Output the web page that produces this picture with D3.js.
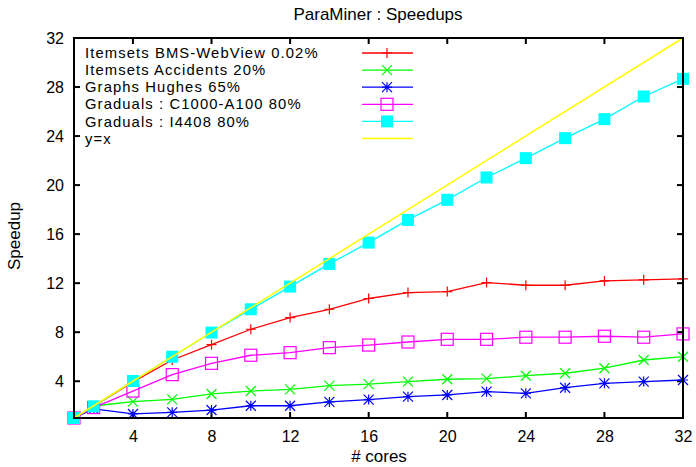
<!DOCTYPE html>
<html>
<head>
<meta charset="utf-8">
<script src="https://cdn.jsdelivr.net/npm/d3@7"></script>
<style>
  body { margin: 0; background: #fff; }
  text { font-family: "Liberation Sans", Arial, sans-serif; fill: #000; }
</style>
</head>
<body>
<div id="chart"></div>
<script>
const cores = [1, 2, 4, 6, 8, 10, 12, 14, 16, 18, 20, 22, 24, 26, 28, 30, 32];
const bmsWebView = [1, 1.95, 3.95, 5.73, 6.98, 8.24, 9.19, 9.87, 10.75, 11.23, 11.31, 12.05, 11.83, 11.83, 12.18, 12.27, 12.35];
const accidents = [1, 1.98, 2.33, 2.52, 2.96, 3.2, 3.34, 3.64, 3.76, 3.97, 4.16, 4.21, 4.45, 4.65, 5.06, 5.73, 6.0];
const hughes = [1, 1.75, 1.33, 1.46, 1.65, 2.0, 2.0, 2.31, 2.5, 2.74, 2.88, 3.15, 3.01, 3.47, 3.83, 3.97, 4.1];
const c1000 = [1, 1.85, 3.2, 4.54, 5.46, 6.12, 6.33, 6.74, 6.95, 7.2, 7.42, 7.42, 7.59, 7.59, 7.67, 7.59, 7.86];
const i4408 = [1, 1.95, 4.02, 6.0, 7.97, 9.87, 11.72, 13.57, 15.31, 17.16, 18.8, 20.62, 22.2, 23.83, 25.38, 27.23, 28.67];
const ticks = [4, 8, 12, 16, 20, 24, 28, 32];

const series = [
  { name: "Itemsets BMS-WebView 0.02%", values: bmsWebView, color: "#ff0000", marker: "plus" },
  { name: "Itemsets Accidents 20%", values: accidents, color: "#00ff00", marker: "cross" },
  { name: "Graphs Hughes 65%", values: hughes, color: "#0000ff", marker: "star" },
  { name: "Graduals : C1000-A100 80%", values: c1000, color: "#ff00ff", marker: "box" },
  { name: "Graduals : I4408 80%", values: i4408, color: "#00ffff", marker: "filledBox" }
];

const width = 696, height = 467;
const margin = { top: 38, right: 13, bottom: 49, left: 74 };
const fontFamily = "Liberation Sans, Arial, sans-serif";

const svg = d3.select("#chart").append("svg")
  .attr("width", width)
  .attr("height", height);

const x = d3.scaleLinear().domain([1, 32]).range([margin.left, width - margin.right]);
const y = d3.scaleLinear().domain([1, 32]).range([height - margin.bottom, margin.top]);

// tick labels
svg.append("g")
  .attr("transform", "translate(0," + (height - margin.bottom) + ")")
  .call(d3.axisBottom(x).tickValues(ticks).tickSize(0).tickPadding(13))
  .call(g => g.select(".domain").remove())
  .selectAll("text").style("font-size", "16px").style("font-family", fontFamily);

svg.append("g")
  .attr("transform", "translate(" + margin.left + ",0)")
  .call(d3.axisLeft(y).tickValues(ticks).tickSize(0).tickPadding(10))
  .call(g => g.select(".domain").remove())
  .selectAll("text").style("font-size", "16px").style("font-family", fontFamily);

// inward ticks on all four sides
const tickLen = 6;
const tickG = svg.append("g").attr("stroke", "#000").attr("stroke-width", 2);
ticks.forEach(t => {
  tickG.append("line").attr("x1", x(t)).attr("x2", x(t)).attr("y1", y(1)).attr("y2", y(1) - tickLen);
  tickG.append("line").attr("x1", x(t)).attr("x2", x(t)).attr("y1", y(32)).attr("y2", y(32) + tickLen);
  tickG.append("line").attr("x1", x(1)).attr("x2", x(1) + tickLen).attr("y1", y(t)).attr("y2", y(t));
  tickG.append("line").attr("x1", x(32)).attr("x2", x(32) - tickLen).attr("y1", y(t)).attr("y2", y(t));
});

// marker drawing
function drawMarker(g, type, color, cx, cy) {
  const s = 5;
  if (type === "plus") {
    g.append("path").attr("d", `M${cx - s},${cy}H${cx + s}M${cx},${cy - s}V${cy + s}`)
      .attr("stroke", color).attr("stroke-width", 1.2).attr("fill", "none");
  } else if (type === "cross") {
    g.append("path").attr("d", `M${cx - s},${cy - s}L${cx + s},${cy + s}M${cx - s},${cy + s}L${cx + s},${cy - s}`)
      .attr("stroke", color).attr("stroke-width", 1.2).attr("fill", "none");
  } else if (type === "star") {
    g.append("path").attr("d", `M${cx - s},${cy}H${cx + s}M${cx},${cy - s}V${cy + s}M${cx - s},${cy - s}L${cx + s},${cy + s}M${cx - s},${cy + s}L${cx + s},${cy - s}`)
      .attr("stroke", color).attr("stroke-width", 1.2).attr("fill", "none");
  } else if (type === "box") {
    g.append("rect").attr("x", cx - 6).attr("y", cy - 6).attr("width", 12).attr("height", 12)
      .attr("stroke", color).attr("stroke-width", 1.2).attr("fill", "none");
  } else if (type === "filledBox") {
    g.append("rect").attr("x", cx - 6).attr("y", cy - 6).attr("width", 12).attr("height", 12)
      .attr("fill", color);
  }
}

const line = d3.line()
  .x(d => x(d[0]))
  .y(d => y(d[1]));

series.forEach(s => {
  const pts = cores.map((c, i) => [c, s.values[i]]);
  const g = svg.append("g");
  g.append("path")
    .datum(pts)
    .attr("d", line)
    .attr("fill", "none")
    .attr("stroke", s.color)
    .attr("stroke-width", 1.3);
  pts.forEach(p => drawMarker(g, s.marker, s.color, x(p[0]), y(p[1])));
});

// y=x reference line, drawn last like gnuplot
svg.append("path")
  .datum([[1, 1], [32, 32]])
  .attr("d", line)
  .attr("fill", "none")
  .attr("stroke", "#ffff00")
  .attr("stroke-width", 1.5);

// frame
svg.append("rect")
  .attr("x", x(1)).attr("y", y(32))
  .attr("width", x(32) - x(1)).attr("height", y(1) - y(32))
  .attr("fill", "none").attr("stroke", "#000").attr("stroke-width", 2);

// legend
const legendItems = series.concat([{ name: "y=x", color: "#ffff00", marker: null }]);
const legend = svg.append("g");
legendItems.forEach((d, i) => {
  const ly = 53 + i * 17.1;
  legend.append("text")
    .attr("x", 85).attr("y", ly).attr("dy", "0.35em")
    .style("font-size", "14.8px")
    .style("letter-spacing", "1.1px")
    .text(d.name);
  legend.append("line")
    .attr("x1", 362).attr("x2", 413).attr("y1", ly).attr("y2", ly)
    .attr("stroke", d.color).attr("stroke-width", d.marker ? 1.3 : 1.5);
  if (d.marker) drawMarker(legend, d.marker, d.color, 387, ly);
});

// titles
svg.append("text")
  .attr("x", 378).attr("y", 20)
  .attr("text-anchor", "middle")
  .style("font-size", "17px")
  .text("ParaMiner : Speedups");

svg.append("text")
  .attr("x", 379).attr("y", 462)
  .attr("text-anchor", "middle")
  .style("font-size", "17px")
  .text("# cores");

svg.append("text")
  .attr("transform", "translate(20,236) rotate(-90)")
  .attr("text-anchor", "middle")
  .style("font-size", "17px")
  .text("Speedup");
</script>
</body>
</html>
